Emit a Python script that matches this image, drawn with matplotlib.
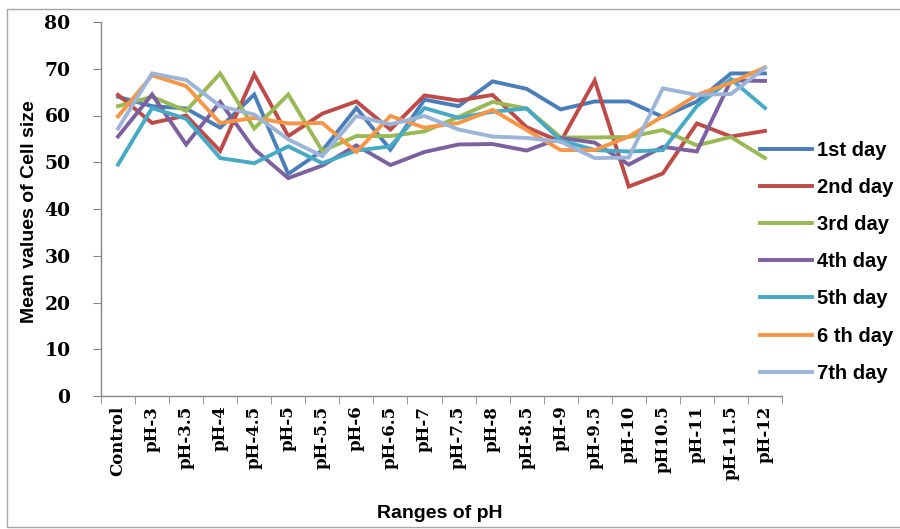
import matplotlib
matplotlib.use("Agg")
import matplotlib.pyplot as plt
from matplotlib.patches import Rectangle
import numpy as np

categories = ["Control", "pH-3", "pH-3.5", "pH-4", "pH-4.5", "pH-5", "pH-5.5",
              "pH-6", "pH-6.5", "pH-7", "pH-7.5", "pH-8", "pH-8.5", "pH-9",
              "pH-9.5", "pH-10", "pH10.5", "pH-11", "pH-11.5", "pH-12"]

day1 = [64.0, 62.0, 61.5, 57.4, 64.5, 47.5, 52.5, 61.6, 52.7, 63.4,
        62.0, 67.3, 65.7, 61.3, 63.0, 63.0, 59.7, 63.0, 69.0, 69.0]
day2 = [64.4, 58.4, 60.0, 52.4, 68.8, 55.6, 60.4, 63.0, 57.0, 64.3,
        63.2, 64.4, 57.5, 54.4, 67.5, 44.8, 47.6, 58.3, 55.5, 56.7]
day3 = [62.0, 64.0, 61.0, 69.0, 57.2, 64.5, 52.4, 55.6, 55.6, 56.6,
        59.7, 62.9, 61.5, 55.3, 55.3, 55.4, 56.9, 53.6, 55.4, 50.9]
day4 = [55.5, 64.5, 53.8, 62.9, 52.8, 46.6, 49.3, 53.6, 49.4, 52.2,
        53.8, 53.9, 52.5, 55.2, 54.2, 49.5, 53.3, 52.3, 67.5, 67.4]
day5 = [49.5, 61.6, 59.3, 50.9, 49.8, 53.4, 49.8, 52.5, 53.4, 61.6,
        59.5, 60.8, 61.5, 54.7, 52.6, 52.3, 52.6, 62.0, 67.8, 61.6]
day6 = [59.8, 68.6, 66.3, 58.4, 59.5, 58.3, 58.4, 52.2, 59.9, 57.4,
        58.4, 61.2, 56.9, 52.6, 52.6, 55.5, 59.8, 64.4, 67.0, 70.3]
day7 = [57.2, 69.0, 67.6, 62.0, 60.2, 54.9, 51.3, 59.9, 58.1, 59.9,
        57.0, 55.5, 55.2, 54.4, 50.9, 51.0, 65.8, 64.4, 64.6, 70.2]

series = [day1, day2, day3, day4, day5, day6, day7]
labels = ["1st day", "2nd day", "3rd day", "4th day", "5th day", "6 th day", "7th day"]
colors = ["#4A7EBB", "#BE4B48", "#98B954", "#7D60A0", "#46AAC5", "#F79646", "#9CB4D8"]

W, H = 900, 529
fig = plt.figure(figsize=(W / 100, H / 100), dpi=100)
ax = fig.add_axes([101 / W, 1 - 396 / H, (782 - 101) / W, (396 - 22) / H])

x = np.arange(len(categories))
for vals, lab, col in zip(series, labels, colors):
    ax.plot(x, vals, color=col, lw=2.8, label=lab, solid_joinstyle="miter")

ax.set_xlim(-0.5, len(categories) - 0.5)
ax.set_ylim(0, 80)

# axes styling
grey = "#868686"
for s in ["top", "right"]:
    ax.spines[s].set_visible(False)
for s in ["left", "bottom"]:
    ax.spines[s].set_color(grey)
    ax.spines[s].set_linewidth(1.0)

ax.set_yticks(range(0, 81, 10))
ax.set_yticklabels([str(v) for v in range(0, 81, 10)],
                   family="DejaVu Serif", size=13.5, weight="bold")
ax.tick_params(axis="y", direction="out", length=6, color=grey, pad=16)

ax.set_xticks(x)
ax.set_xticklabels(categories, rotation=90,
                   family="DejaVu Serif", size=12, weight="bold")
ax.set_xticks(np.arange(-0.5, len(categories)), minor=True)
ax.tick_params(axis="x", which="major", length=0, pad=7)
ax.tick_params(axis="x", which="minor", direction="out", length=6, color=grey)

label_font = dict(family="Liberation Sans", size=14, weight="bold")
fig.text(30 / W, 1 - 212 / H, "Mean values of Cell size", rotation=90,
         ha="center", va="center", **label_font)
fig.text(440 / W, 1 - 514 / H, "Ranges of pH", ha="center", va="center", **label_font)

leg = ax.legend(loc="upper left", bbox_to_anchor=(760 / W, 1 - 141 / H),
                bbox_transform=fig.transFigure, frameon=False,
                prop=dict(family="Liberation Sans", size=14.5, weight="bold"),
                handlelength=2.6, handletextpad=0.25, labelspacing=0.9,
                borderpad=0, borderaxespad=0)

# chart border (right edge falls outside the image)
fig.patches.append(Rectangle((7 / W, 2 / H), 920 / W, 518 / H,
                             transform=fig.transFigure, fill=False,
                             edgecolor="#a6a6a6", lw=1.0))

fig.savefig("out.png", dpi=100)
